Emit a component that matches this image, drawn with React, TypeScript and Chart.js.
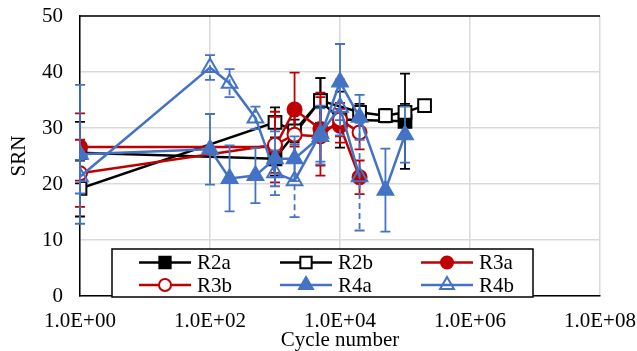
import React, { useEffect, useRef } from "react";
import { Chart, registerables } from "chart.js";

Chart.register(...registerables);

// Surface roughness number (SRN) versus cycle number for six specimens
const seriesNames = ["R2a", "R2b", "R3a", "R3b", "R4a", "R4b"];

const r2aCycles = [1, 1000, 5000, 10000, 100000];
const r2aSrn = [25.6, 24.5, 34.9, 31.5, 31.2];
const r2aErr = [5.5, 3, 4, 5, 8.5];

const r2bCycles = [1, 1000, 2000, 5000, 20000, 50000, 100000, 200000];
const r2bSrn = [19.2, 31.0, 29.5, 34.9, 32.8, 32.2, 32.8, 34.0];
const r2bErr = [5, 2.7, 2, 4, 1.5, 1.2, 1.5, 0];

const r3aCycles = [1, 1000, 2000, 5000, 10000, 20000];
const r3aSrn = [26.6, 26.6, 33.3, 29.8, 30.4, 21.2];
const r3aErr = [6, 6.3, 6.6, 6.5, 3, 3];

const r3bCycles = [1, 1000, 2000, 5000, 10000, 20000];
const r3bSrn = [21.9, 27.0, 28.8, 28.5, 31.5, 29.2];
const r3bErr = [6, 5, 5, 7, 3, 3];

const r4aCycles = [1, 100, 200, 500, 1000, 2000, 5000, 10000, 20000, 50000, 100000];
const r4aSrn = [25.3, 26.2, 21.0, 21.5, 24.5, 24.5, 28.5, 38.2, 31.9, 18.9, 28.8];
const r4aErr = [12.4, 6.3, 5.9, 4.9, 4.9, 4, 5, 6.8, 4, 7.4, 5];

const r4bCycles = [1, 100, 200, 500, 1000, 2000, 5000, 10000, 20000];
const r4bSrn = [21.3, 40.8, 38.0, 31.8, 22.0, 20.6, 29.0, 33.7, 21.3];
const r4bErr = [3, 2.2, 2.5, 2, 4, 6.5, 5, 5, 9.6];

const xTickValues = [1, 1e2, 1e4, 1e6, 1e8];
const yMin = 0;
const yMax = 50;
const yStep = 10;

const BLACK = "#000000";
const RED = "#C00000";
const BLUE = "#4472C4";
const FONT = "'Liberation Serif', 'Times New Roman', serif";

type Style = {
  color: string;
  shape: "rect" | "circle" | "triangle";
  filled: boolean;
  radius: number;
  dashedErr?: boolean;
};

const styles: Style[] = [
  { color: BLACK, shape: "rect", filled: true, radius: 9 },
  { color: BLACK, shape: "rect", filled: false, radius: 9 },
  { color: RED, shape: "circle", filled: true, radius: 7 },
  { color: RED, shape: "circle", filled: false, radius: 7 },
  { color: BLUE, shape: "triangle", filled: true, radius: 9 },
  { color: BLUE, shape: "triangle", filled: false, radius: 9, dashedErr: true },
];

const allCycles = [r2aCycles, r2bCycles, r3aCycles, r3bCycles, r4aCycles, r4bCycles];
const allSrn = [r2aSrn, r2bSrn, r3aSrn, r3bSrn, r4aSrn, r4bSrn];
const allErr = [r2aErr, r2bErr, r3aErr, r3bErr, r4aErr, r4bErr];

function fillFor(s: Style) {
  if (s.filled) return s.color;
  return s.shape === "triangle" ? "rgba(255,255,255,0)" : "#ffffff";
}

function drawMarker(ctx: CanvasRenderingContext2D, s: Style, x: number, y: number) {
  const r = s.radius;
  ctx.save();
  ctx.beginPath();
  if (s.shape === "circle") {
    ctx.arc(x, y, r, 0, Math.PI * 2);
  } else if (s.shape === "rect") {
    const h = r * Math.SQRT1_2;
    ctx.rect(x - h, y - h, 2 * h, 2 * h);
  } else {
    const w = r * Math.sin(Math.PI / 3);
    ctx.moveTo(x, y - r);
    ctx.lineTo(x + w, y + r / 2);
    ctx.lineTo(x - w, y + r / 2);
    ctx.closePath();
  }
  ctx.fillStyle = fillFor(s);
  ctx.fill();
  ctx.lineWidth = 2;
  ctx.strokeStyle = s.color;
  ctx.stroke();
  ctx.restore();
}

// Vertical error bars, painted just beneath each series' own line and markers
const errorBarPlugin = {
  id: "errorBars",
  beforeDatasetDraw(chart: any, args: any) {
    const i = args.index;
    const errs = allErr[i];
    const vals = allSrn[i];
    const s = styles[i];
    const yScale = chart.scales.y;
    const ctx: CanvasRenderingContext2D = chart.ctx;
    ctx.save();
    ctx.strokeStyle = s.color;
    ctx.lineWidth = 1.8;
    args.meta.data.forEach((pt: any, j: number) => {
      const e = errs[j];
      if (!e) return;
      const x = pt.x;
      const yt = yScale.getPixelForValue(vals[j] + e);
      const yb = yScale.getPixelForValue(vals[j] - e);
      if (s.dashedErr) ctx.setLineDash([6, 4]);
      ctx.beginPath();
      ctx.moveTo(x, yt);
      ctx.lineTo(x, yb);
      ctx.stroke();
      ctx.setLineDash([]);
      ctx.beginPath();
      ctx.moveTo(x - 5, yt);
      ctx.lineTo(x + 5, yt);
      ctx.moveTo(x - 5, yb);
      ctx.lineTo(x + 5, yb);
      ctx.stroke();
    });
    ctx.restore();
  },
};

// Black frame line along the top of the plot area
const frameTopPlugin = {
  id: "frameTop",
  beforeDatasetsDraw(chart: any) {
    const { ctx, chartArea } = chart;
    ctx.save();
    ctx.strokeStyle = BLACK;
    ctx.lineWidth = 1.5;
    ctx.beginPath();
    ctx.moveTo(chartArea.left, chartArea.top);
    ctx.lineTo(chartArea.right, chartArea.top);
    ctx.stroke();
    ctx.restore();
  },
};

// Boxed two-row legend sitting on the bottom of the plot area
const boxLegendPlugin = {
  id: "boxLegend",
  afterDraw(chart: any) {
    const { ctx, chartArea } = chart;
    const left = chartArea.left + 32;
    const right = chartArea.left + 453;
    const top = chartArea.bottom - 47;
    const bottom = chartArea.bottom + 1;
    ctx.save();
    ctx.fillStyle = "#ffffff";
    ctx.fillRect(left, top, right - left, bottom - top);
    ctx.strokeStyle = BLACK;
    ctx.lineWidth = 1.5;
    ctx.strokeRect(left, top, right - left, bottom - top);
    const colX = [left + 27, left + 168, left + 309];
    const rowY = [top + 13.5, top + 36];
    ctx.font = `21px ${FONT}`;
    ctx.textBaseline = "middle";
    ctx.textAlign = "left";
    seriesNames.forEach((name, i) => {
      const s = styles[i];
      const x0 = colX[i % 3];
      const y = rowY[Math.floor(i / 3)];
      ctx.strokeStyle = s.color;
      ctx.lineWidth = 2.5;
      ctx.beginPath();
      ctx.moveTo(x0, y);
      ctx.lineTo(x0 + 52, y);
      ctx.stroke();
      drawMarker(ctx, { ...s, radius: s.radius - 1 }, x0 + 26, y);
      ctx.fillStyle = BLACK;
      ctx.fillText(name, x0 + 58, y + 1);
    });
    ctx.restore();
  },
};

function formatSci(v: number) {
  const exp = Math.round(Math.log10(v));
  return "1.0E+" + String(exp).padStart(2, "0");
}

function clearScalePadding(scale: any) {
  scale.paddingTop = 0;
  scale.paddingBottom = 0;
  scale.paddingLeft = 0;
  scale.paddingRight = 0;
}

export default function App() {
  const canvasRef = useRef<HTMLCanvasElement | null>(null);

  useEffect(() => {
    document.body.style.margin = "0";
    const canvas = canvasRef.current;
    if (!canvas) return;

    const datasets = seriesNames.map((name, i) => {
      const s = styles[i];
      return {
        label: name,
        data: allCycles[i].map((c, j) => ({ x: c, y: allSrn[i][j] })),
        borderColor: s.color,
        backgroundColor: s.color,
        borderWidth: 2.5,
        pointStyle: s.shape,
        pointRadius: s.radius,
        pointBorderWidth: 2,
        pointBorderColor: s.color,
        pointBackgroundColor: fillFor(s),
        tension: 0,
        order: seriesNames.length - i,
      };
    });

    const chart = new Chart(canvas, {
      type: "line",
      data: { datasets },
      options: {
        responsive: false,
        maintainAspectRatio: false,
        devicePixelRatio: 1,
        animation: false,
        layout: { padding: { left: 0, right: 37, top: 16, bottom: 0 } },
        plugins: {
          legend: { display: false },
          tooltip: { enabled: false },
        },
        scales: {
          x: {
            type: "logarithmic",
            min: xTickValues[0],
            max: xTickValues[xTickValues.length - 1],
            afterBuildTicks: (scale: any) => {
              scale.ticks = xTickValues.map((v) => ({ value: v }));
            },
            afterFit: (scale: any) => {
              scale.height = 55;
              clearScalePadding(scale);
            },
            ticks: {
              callback: (v: any) => formatSci(Number(v)),
              font: { family: FONT, size: 21, lineHeight: 1.2 },
              color: BLACK,
              padding: 13,
              maxRotation: 0,
              autoSkip: false,
            },
            grid: { color: "#D9D9D9", lineWidth: 1.5, drawTicks: false },
            border: { color: BLACK, width: 1.5 },
            title: {
              display: true,
              text: "Cycle number",
              font: { family: FONT, size: 21, lineHeight: 1 },
              color: BLACK,
              padding: { top: 0, bottom: 0 },
            },
          },
          y: {
            type: "linear",
            min: yMin,
            max: yMax,
            afterFit: (scale: any) => {
              scale.width = 80;
              clearScalePadding(scale);
            },
            ticks: {
              stepSize: yStep,
              font: { family: FONT, size: 21 },
              color: BLACK,
              padding: 17,
            },
            grid: { color: "#D9D9D9", lineWidth: 1.5, drawTicks: false },
            border: { color: BLACK, width: 1.5 },
            title: {
              display: true,
              text: "SRN",
              font: { family: FONT, size: 21, lineHeight: 1.2 },
              color: BLACK,
              padding: { top: 7, bottom: 0 },
            },
          },
        },
      },
      plugins: [errorBarPlugin, frameTopPlugin, boxLegendPlugin],
    } as any);

    return () => chart.destroy();
  }, []);

  return (
    <div style={{ width: 637, height: 351, background: "#ffffff" }}>
      <canvas ref={canvasRef} width={637} height={351} style={{ display: "block" }} />
    </div>
  );
}
